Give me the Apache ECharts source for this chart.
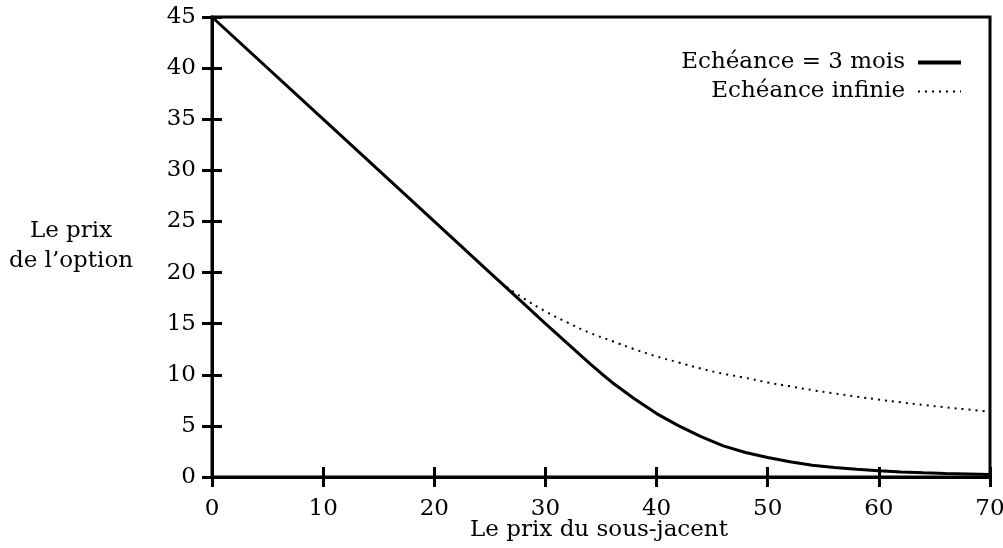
<!DOCTYPE html>
<html>
<head>
<meta charset="utf-8">
<script src="https://cdn.jsdelivr.net/npm/echarts@6/dist/echarts.min.js"></script>
<style>
  html, body { margin: 0; padding: 0; background: #ffffff; }
  #chart { width: 1003px; height: 548px; }
</style>
</head>
<body>
<div id="chart"></div>
<script>
// Echéance = 3 mois (prix du sous-jacent / prix de l'option)
const spot3m = [0, 10, 20, 25, 28, 30, 32, 34, 35, 36, 38, 40, 42, 44, 46, 48, 50, 52, 54, 56, 58, 60, 62, 64, 66, 68, 70];
const put3m = [45, 35, 25, 20, 17, 15, 13.05, 11.1, 10.15, 9.25, 7.65, 6.2, 5.0, 3.95, 3.05, 2.4, 1.9, 1.5, 1.15, 0.92, 0.75, 0.6, 0.5, 0.42, 0.35, 0.3, 0.25];

// Echéance infinie
const spotInf = [26.5, 28, 30, 32, 34, 36, 38, 40, 42, 44, 46, 48, 50, 52, 54, 56, 58, 60, 62, 64, 66, 68, 70];
const putInf = [18.6, 17.5, 16.2, 15.1, 14.1, 13.3, 12.5, 11.8, 11.2, 10.6, 10.1, 9.7, 9.25, 8.87, 8.5, 8.17, 7.86, 7.57, 7.3, 7.05, 6.82, 6.6, 6.39];

const xTicks = [0, 10, 20, 30, 40, 50, 60, 70];
const yTicks = [0, 5, 10, 15, 20, 25, 30, 35, 40, 45];

const serif = `"DejaVu Serif", "Liberation Serif", serif`;

const chart = echarts.init(document.getElementById(`chart`));

const tickStyle = { show: true, inside: true, length: 10, lineStyle: { color: `#000`, width: 3 } };

const option = {
  animation: false,
  backgroundColor: `#ffffff`,
  grid: {
    left: 212, right: 13, top: 17, bottom: 71,
    outerBoundsMode: `none`,
    show: true, borderColor: `#000`, borderWidth: 3
  },
  legend: {
    orient: `vertical`,
    right: 35,
    top: 46,
    align: `right`,
    itemWidth: 43,
    itemHeight: 14,
    itemGap: 6,
    itemStyle: { color: `transparent`, borderWidth: 0, opacity: 0 },
    textStyle: { fontFamily: serif, fontSize: 23, color: `#000`, padding: [0, 8, 0, 0] },
    data: [
      { name: `Echéance = 3 mois`, lineStyle: { width: 4 } },
      { name: `Echéance infinie`, lineStyle: { width: 2 } }
    ]
  },
  xAxis: [
    {
      type: `value`, min: 0, max: 70, interval: 10,
      axisLine: { show: true, lineStyle: { color: `#000`, width: 3 } },
      axisTick: tickStyle,
      splitLine: { show: false },
      axisLabel: {
        margin: 21, fontFamily: serif, fontSize: 23, color: `#000`,
        formatter: (v) => xTicks.includes(v) ? String(v) : ``
      }
    },
    {
      type: `value`, min: 0, max: 70, interval: 10, position: `top`,
      axisLine: { show: true, lineStyle: { color: `#000`, width: 3 } },
      axisTick: tickStyle, axisLabel: { show: false }, splitLine: { show: false }
    }
  ],
  yAxis: [
    {
      type: `value`, min: 0, max: 45, interval: 5,
      axisLine: { show: true, lineStyle: { color: `#000`, width: 3 } },
      axisTick: tickStyle,
      splitLine: { show: false },
      axisLabel: {
        margin: 16, fontFamily: serif, fontSize: 23, color: `#000`,
        formatter: (v) => yTicks.includes(v) ? String(v) : ``
      }
    },
    {
      type: `value`, min: 0, max: 45, interval: 5, position: `right`,
      axisLine: { show: true, lineStyle: { color: `#000`, width: 3 } },
      axisTick: tickStyle, axisLabel: { show: false }, splitLine: { show: false }
    }
  ],
  graphic: [
    {
      type: `text`, x: 599, y: 530,
      style: { text: `Le prix du sous-jacent`, font: `23px ${serif}`, fill: `#000`, textAlign: `center`, textVerticalAlign: `middle` }
    },
    {
      type: `text`, x: 71, y: 246,
      style: { text: `Le prix\nde l’option`, font: `23px ${serif}`, fill: `#000`, textAlign: `center`, textVerticalAlign: `middle`, lineHeight: 30 }
    }
  ],
  series: [
    {
      name: `Echéance = 3 mois`,
      type: `line`,
      symbol: `none`,
      lineStyle: { color: `#000`, width: 3, type: `solid` },
      itemStyle: { color: `#000` },
      data: spot3m.map((s, i) => [s, put3m[i]])
    },
    {
      name: `Echéance infinie`,
      type: `line`,
      symbol: `none`,
      smooth: true,
      lineStyle: { color: `#000`, width: 2, type: [2, 5] },
      itemStyle: { color: `#000` },
      data: spotInf.map((s, i) => [s, putInf[i]])
    }
  ]
};

option && chart.setOption(option);
</script>
</body>
</html>
